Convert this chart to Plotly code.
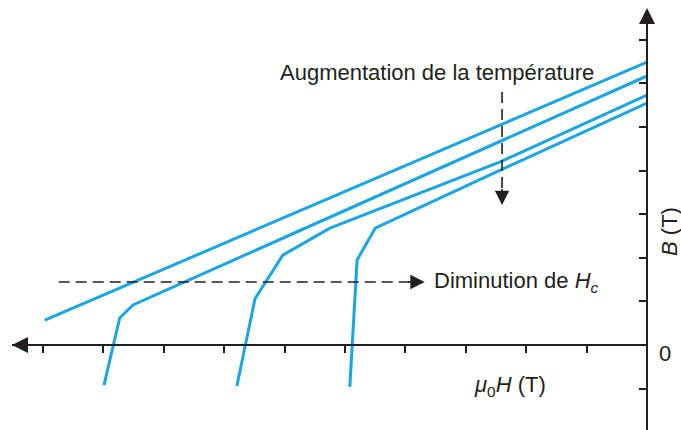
import plotly.graph_objects as go

# demagnetisation curves, mu0*H (T) vs B (T), one tick = 1 unit
h1 = [-9.97, 0]
b1 = [0.57, 6.49]
h2 = [-8.99, -8.73, -8.51, 0]
b2 = [-0.92, 0.62, 0.92, 6.17]
h3 = [-6.79, -6.49, -6.03, -5.25, -2.43, 0]
b3 = [-0.94, 1.06, 2.06, 2.68, 4.20, 5.73]
h4 = [-4.92, -4.80, -4.50, -2.43, 0]
b4 = [-0.96, 1.95, 2.68, 4.01, 5.55]

x_ticks = [-10, -9, -8, -7, -6, -5, -4, -3, -2, -1]
y_ticks = [-1, 1, 2, 3, 4, 5, 6, 7]

# dashed arrows
hc_arrow_x = [-9.74, -3.68]
hc_arrow_y = [1.445, 1.445]
temp_arrow_x = [-2.40, -2.40]
temp_arrow_y = [5.80, 3.21]

blue = "#1aa6e2"
dark = "#231f20"
font = dict(family="Liberation Sans, Arial, sans-serif", size=22, color=dark)

fig = go.Figure()
for h, b in [(h1, b1), (h2, b2), (h3, b3), (h4, b4)]:
    fig.add_trace(go.Scatter(x=h, y=b, mode="lines",
                             line=dict(color=blue, width=3), hoverinfo="skip"))

# dashed shafts (stop a bit before the heads)
fig.add_trace(go.Scatter(x=[hc_arrow_x[0], hc_arrow_x[1] - 0.25], y=hc_arrow_y, mode="lines",
                         line=dict(color=dark, width=1.6, dash="11px,6px"), hoverinfo="skip"))
fig.add_trace(go.Scatter(x=temp_arrow_x, y=[temp_arrow_y[0], temp_arrow_y[1] + 0.35], mode="lines",
                         line=dict(color=dark, width=1.6, dash="11px,6px"), hoverinfo="skip"))

W, H = 681, 430
ox, oy = 647, 345  # origin in pixels

fig.update_layout(
    width=W, height=H, margin=dict(l=0, r=0, t=0, b=0),
    paper_bgcolor="white", plot_bgcolor="white", showlegend=False,
    xaxis=dict(domain=[12 / W, ox / W], range=[-(ox - 12) / 60.4, 0],
               anchor="free", position=(H - oy) / H,
               showline=True, linecolor=dark, linewidth=1.6,
               ticks="outside", ticklen=7, tickwidth=1.5, tickcolor=dark,
               tickvals=x_ticks, showticklabels=False,
               showgrid=False, zeroline=False),
    yaxis=dict(domain=[0, (H - 20) / H], range=[-(H - oy) / 43.6, (oy - 20) / 43.6],
               anchor="free", position=ox / W, side="right",
               showline=True, linecolor=dark, linewidth=1.6,
               ticks="inside", ticklen=7, tickwidth=1.5, tickcolor=dark,
               tickvals=y_ticks, showticklabels=False,
               showgrid=False, zeroline=False),
)

# axis arrowheads
fig.add_annotation(xref="paper", yref="paper", x=ox / W, y=(H - 8) / H, ax=0, ay=18,
                   showarrow=True, arrowhead=2, arrowsize=2, arrowwidth=1.6,
                   arrowcolor=dark, text="")
fig.add_annotation(xref="paper", yref="paper", x=12 / W, y=(H - oy) / H, ax=18, ay=0,
                   showarrow=True, arrowhead=2, arrowsize=2, arrowwidth=1.6,
                   arrowcolor=dark, text="")

# dashed arrow heads
fig.add_annotation(x=hc_arrow_x[1], y=hc_arrow_y[1], axref="x", ayref="y",
                   ax=hc_arrow_x[1] - 0.3, ay=hc_arrow_y[1],
                   showarrow=True, arrowhead=2, arrowsize=1.8, arrowwidth=1.6,
                   arrowcolor=dark, text="")
fig.add_annotation(x=temp_arrow_x[1], y=temp_arrow_y[1], axref="x", ayref="y",
                   ax=temp_arrow_x[1], ay=temp_arrow_y[1] + 0.4,
                   showarrow=True, arrowhead=2, arrowsize=1.8, arrowwidth=1.6,
                   arrowcolor=dark, text="")

# texts
fig.add_annotation(x=-6.11, y=6.26, text="Augmentation de la température",
                   showarrow=False, xanchor="left", yanchor="middle", font=font)
fig.add_annotation(x=-3.56, y=1.445, text="Diminution de <i>H</i><sub><i>c</i></sub>",
                   showarrow=False, xanchor="left", yanchor="middle", font=font)
fig.add_annotation(x=-2.27, y=-0.94, text="<i>μ</i><sub>0</sub><i>H</i> (T)",
                   showarrow=False, xanchor="center", yanchor="middle", font=font)
fig.add_annotation(xref="paper", yref="paper", x=665 / W, y=(H - 353) / H, text="0",
                   showarrow=False, xanchor="center", yanchor="middle", font=font)
fig.add_annotation(xref="paper", yref="paper", x=670 / W, y=(H - 232) / H, text="<i>B</i> (T)",
                   textangle=-90, showarrow=False, xanchor="center", yanchor="middle", font=font)

# the page's default body margin would push the figure 8px off the window
fig.write_html("out.html", config={"displayModeBar": False},
               post_script="document.body.style.margin='0';")
